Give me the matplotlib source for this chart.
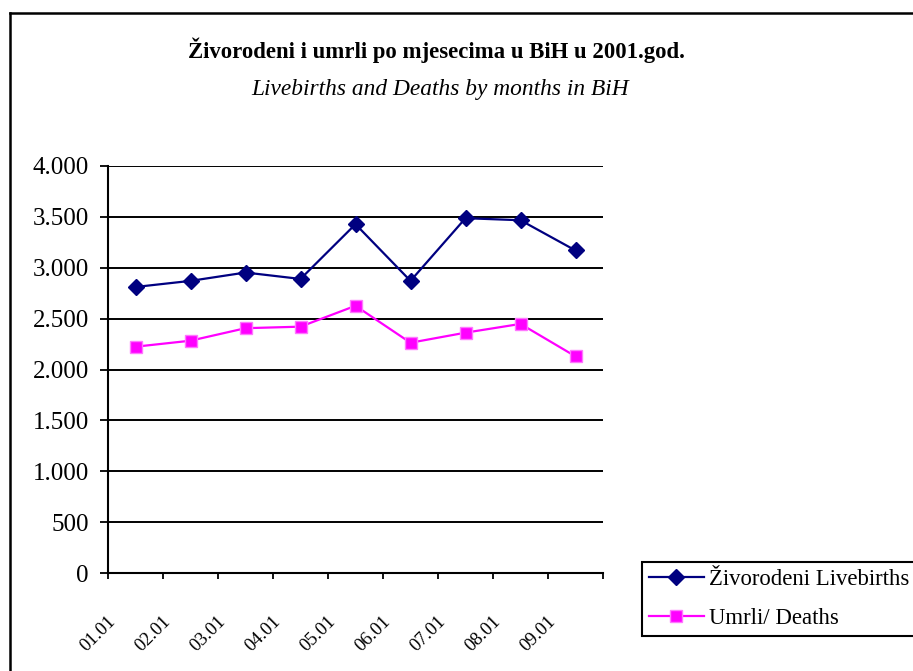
import matplotlib.pyplot as plt
import matplotlib.ticker as ticker
from matplotlib.lines import Line2D
from matplotlib.transforms import ScaledTranslation

months = ['01.01', '02.01', '03.01', '04.01', '05.01', '06.01', '07.01', '08.01', '09.01']
livebirths = [2811, 2871, 2953, 2890, 3428, 2871, 3487, 3467, 3170]
deaths = [2224, 2283, 2406, 2421, 2626, 2263, 2362, 2448, 2129]

plt.rcParams['font.family'] = ['Liberation Serif', 'DejaVu Serif']

W, H = 913, 671
fig = plt.figure(figsize=(W / 100, H / 100), dpi=100)
ax = fig.add_axes([108 / W, 1 - 573 / H, (603 - 108) / W, (573 - 166) / H])

x = [i + 0.5 for i in range(len(months))]
ax.plot(x, livebirths, color='#000080', lw=1.6, marker='D', ms=8,
        mfc='#000080', mec='#000080', label='Živorodeni Livebirths', zorder=3)
ax.plot(x, deaths, color='#ff00ff', lw=1.6, marker='s', ms=8.5,
        mfc='#ff00ff', mec='#ff77ff', mew=1, label='Umrli/ Deaths', zorder=3)

ax.set_xlim(0, len(months))
ax.set_ylim(0, 4000)
ax.yaxis.set_major_locator(ticker.MultipleLocator(500))
ax.yaxis.set_major_formatter(ticker.FuncFormatter(lambda v, p: f'{int(v):,}'.replace(',', '.')))
ax.grid(axis='y', color='black', lw=1.4)
ax.set_axisbelow(True)

ax.set_xticks(range(len(months) + 1))
ax.set_xticklabels([])
ax.set_xticks(x, minor=True)
ax.set_xticklabels(months, minor=True, rotation=45, ha='right', va='top', fontsize=13.5)
ax.tick_params(axis='x', which='major', direction='out', length=4.5, width=1.3)
ax.tick_params(axis='x', which='minor', length=0, pad=29)
ax.tick_params(axis='y', direction='out', length=5.8, width=1.3, pad=8, labelsize=18)
for lbl in ax.get_xticklabels(minor=True):
    lbl.set_transform(lbl.get_transform() + ScaledTranslation(-0.17, 0, fig.dpi_scale_trans))

for s in ['top', 'right']:
    ax.spines[s].set_visible(False)
for s in ['left', 'bottom']:
    ax.spines[s].set_linewidth(1.5)

fig.text(0.4776, 1 - 58 / H, 'Živorodeni i umrli po mjesecima u BiH u 2001.god.',
         ha='center', va='baseline', fontsize=16.4, fontweight='bold')
fig.text(0.482, 1 - 95 / H, 'Livebirths and Deaths by months in BiH',
         ha='center', va='baseline', fontsize=16.8, style='italic')

leg = fig.legend(loc='lower left', bbox_to_anchor=(642 / W, 1 - 636 / H), fontsize=16.4,
                 frameon=True, fancybox=False, edgecolor='black', framealpha=1,
                 borderaxespad=0, handlelength=2.4, borderpad=0.3, labelspacing=0.8,
                 handletextpad=0.22)
leg.get_frame().set_linewidth(1.5)

# outer chart border (runs off the right and bottom edge)
fig.add_artist(Line2D([10 / W, 10 / W], [0, 1 - 13 / H], color='black', lw=1.8))
fig.add_artist(Line2D([10 / W, 1], [1 - 13 / H, 1 - 13 / H], color='black', lw=1.8))

fig.savefig('out.png', dpi=100)
